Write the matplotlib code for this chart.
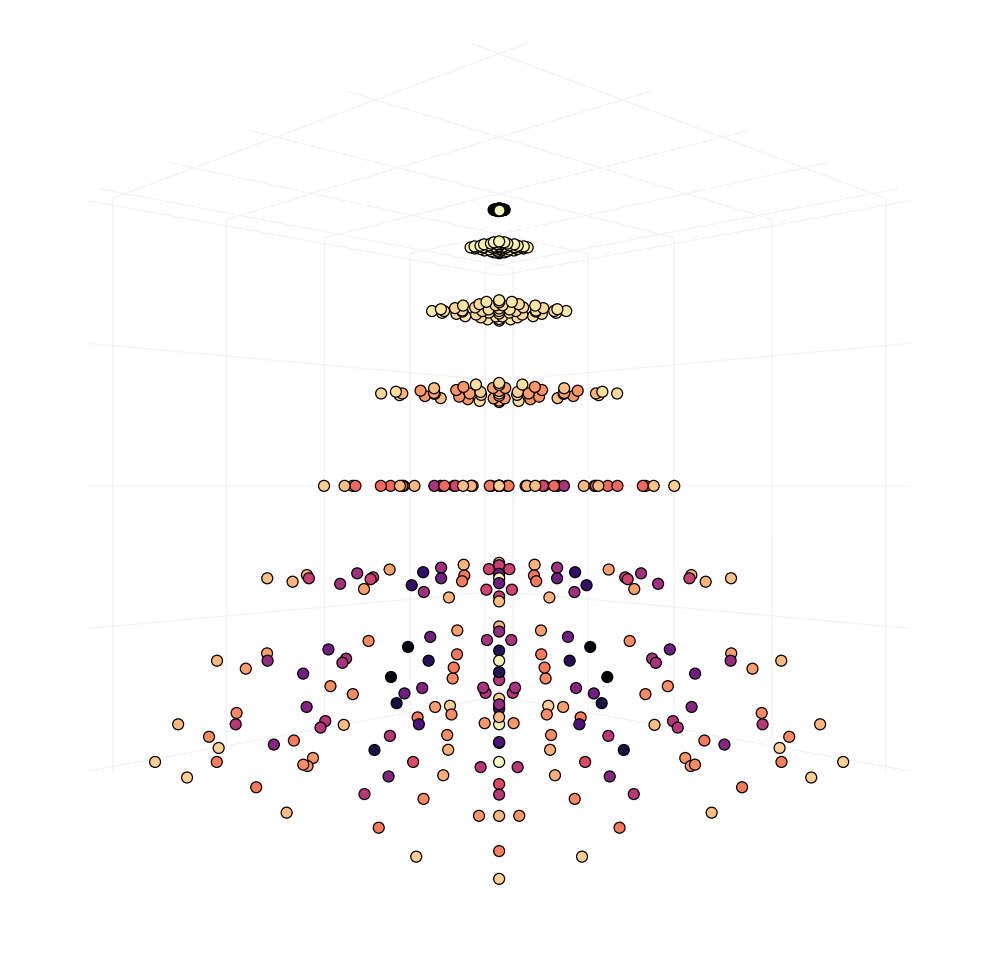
import numpy as np
import matplotlib
matplotlib.use('Agg')
import matplotlib.pyplot as plt

# heights of the layers and how far each one is shrunk towards the axis
level_z = [-0.968, -0.836, -0.613, -0.324, 0.0, 0.324, 0.613, 0.836, 0.968]
level_scale = [1.0, 0.933, 0.82, 0.674, 0.509, 0.343, 0.195, 0.083, 0.016]

# one representative node per symmetry group: A B C O D E F G I J
orbit_x = [0.92, 0.755, 0.23, 0.0, 0.96, 0.955, 0.855, 0.645, 0.55, 0.285]
orbit_y = [0.92, 0.755, 0.23, 0.0, 0.0, 0.625, 0.335, 0.0, 0.46, 0.0]

# colour value of each group, one row per layer (bottom to top)
level_values = [
    [0.90, 0.73, 0.60, 1.00, 0.86, 0.90, 0.72, 0.50, 0.78, 0.83],
    [0.85, 0.50, 0.25, 0.98, 0.76, 0.75, 0.38, 0.12, 0.50, 0.76],
    [0.85, 0.42, 0.15, 0.97, 0.76, 0.80, 0.33, 0.02, 0.47, 0.72],
    [0.87, 0.55, 0.33, 0.98, 0.80, 0.84, 0.45, 0.18, 0.57, 0.72],
    [0.90, 0.68, 0.58, 0.87, 0.85, 0.87, 0.68, 0.47, 0.72, 0.84],
    [0.92, 0.84, 0.80, 0.95, 0.87, 0.93, 0.78, 0.77, 0.80, 0.90],
    [0.95, 0.93, 0.92, 0.97, 0.94, 0.95, 0.92, 0.92, 0.93, 0.94],
    [0.98, 0.97, 0.97, 0.98, 0.97, 0.98, 0.97, 0.97, 0.97, 0.97],
    [0.00, 0.00, 0.00, 1.00, 0.00, 0.00, 0.00, 0.00, 0.00, 0.00],
]

tick_values = [-1, -0.5, 0, 0.5, 1]


def orbit_points(px, py):
    pts = set()
    for a, b in ((px, py), (py, px)):
        for sa in (1, -1):
            for sb in (1, -1):
                pts.add((sa * a, sb * b))
    return sorted(pts)


xs, ys, zs, cs = [], [], [], []
for z, scale, values in zip(level_z, level_scale, level_values):
    for px, py, val in zip(orbit_x, orbit_y, values):
        for a, b in orbit_points(px, py):
            xs.append(a * scale)
            ys.append(b * scale)
            zs.append(z)
            cs.append(val)

fig = plt.figure(figsize=(9.96, 9.72), dpi=100)
ax = fig.add_axes([-12 / 996, -13 / 972, 1, 1], projection='3d')
ax.computed_zorder = False
ax.set_proj_type('persp', focal_length=0.22)
ax.view_init(elev=-0.01, azim=45)
ax.set_box_aspect((1, 1, 1.005), zoom=1.008)

style = dict(cmap='magma', vmin=0, vmax=1, s=62, edgecolors='k',
             linewidths=0.9, depthshade=False, alpha=1)
ax.scatter(xs, ys, zs, c=cs, zorder=2, **style)
# the centre node of the top layer shows through the dark ones around it
ax.scatter([orbit_x[3]], [orbit_y[3]], [level_z[-1]],
           c=[level_values[-1][3]], zorder=3, **style)

ax.set_xlim(-1.1, 1.1)
ax.set_ylim(-1.1, 1.1)
ax.set_zlim(-1.025, 1.025)
ax.set_xticks(tick_values)
ax.set_yticks(tick_values)
ax.set_zticks(tick_values)
ax.set_xticklabels([])
ax.set_yticklabels([])
ax.set_zticklabels([])

for axis in (ax.xaxis, ax.yaxis, ax.zaxis):
    axis.set_pane_color((1, 1, 1, 0))
    axis.pane.set_edgecolor((1, 1, 1, 0))
    axis.line.set_color((1, 1, 1, 0))
    axis._axinfo['tick']['inward_factor'] = 0
    axis._axinfo['tick']['outward_factor'] = 0
    axis._axinfo['grid']['color'] = '#f2f2f2'
    axis._axinfo['grid']['linewidth'] = 0.8

fig.savefig('out.png', dpi=100)
